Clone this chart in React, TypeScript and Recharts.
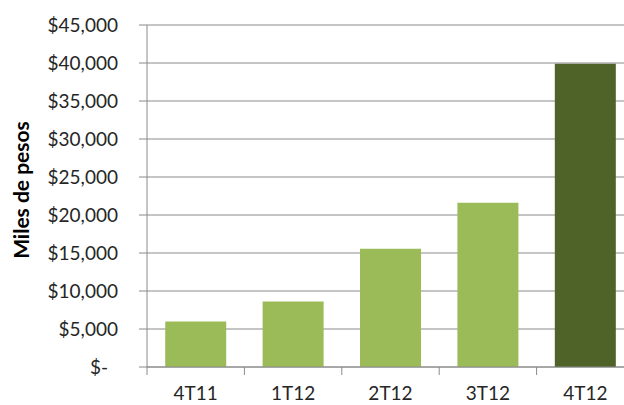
import React from "react";
import { BarChart, Bar, XAxis, YAxis, CartesianGrid, Cell } from "recharts";

const categories = ["4T11", "1T12", "2T12", "3T12", "4T12"];
const values = [6000, 8630, 15570, 21620, 39900];
const barColors = ["#9BBB59", "#9BBB59", "#9BBB59", "#9BBB59", "#4F6228"];
const yTicks = [0, 5000, 10000, 15000, 20000, 25000, 30000, 35000, 40000, 45000];
const yTitle = "Miles de pesos";

const data = categories.map((c, i) => ({ name: c, value: values[i] }));

const CHART_W = 634;
const CHART_H = 405;
const Y_W = 147;
const X_H = 38;
const TOP = 25;
const PLOT_W = CHART_W - Y_W;
const STEP = PLOT_W / categories.length;
const FONT = "Lato, 'Open Sans', sans-serif";
const GRID = "#8a8a8a";

const fmt = (v: number) =>
  v === 0 ? "$-" : "$" + v.toLocaleString("en-US");

const YTick = (props: any) => {
  const { x, y, payload } = props;
  const shift = payload.value === 0 ? -10 : 0;
  return (
    <text
      x={x + shift}
      y={y}
      dy="0.35em"
      textAnchor="end"
      fontFamily={FONT}
      fontSize={19}
      fill="#262626"
    >
      {fmt(payload.value)}
    </text>
  );
};

const XTick = (props: any) => {
  const { x, y, payload } = props;
  return (
    <g>
      <line x1={x - STEP / 2} x2={x - STEP / 2} y1={y} y2={y + 8} stroke={GRID} strokeWidth={1} />
      <text
        x={x}
        y={y + 26}
        dy="0.35em"
        textAnchor="middle"
        fontFamily={FONT}
        fontSize={19}
        fill="#262626"
      >
        {payload.value}
      </text>
    </g>
  );
};

const YTitle = (props: any) => {
  const { viewBox } = props;
  const cy = viewBox.y + viewBox.height / 2 - 6;
  return (
    <text
      x={20}
      y={cy}
      transform={`rotate(-90, 20, ${cy})`}
      textAnchor="middle"
      dominantBaseline="central"
      fontFamily={FONT}
      fontWeight="bold"
      fontSize={21}
      fill="#000"
    >
      {yTitle}
    </text>
  );
};

export default function App() {
  return (
    <div style={{ position: "absolute", left: 0, top: 0, width: 624, height: 405, overflow: "hidden", background: "#fff" }}>
      <BarChart
        width={CHART_W}
        height={CHART_H}
        data={data}
        margin={{ top: TOP, right: 0, bottom: 0, left: 0 }}
        barCategoryGap="18.7%"
      >
        <CartesianGrid vertical={false} stroke={GRID} strokeWidth={1} />
        <XAxis
          dataKey="name"
          height={X_H}
          axisLine={{ stroke: GRID }}
          tickLine={false}
          tickSize={0}
          tickMargin={0}
          tick={<XTick />}
          interval={0}
        />
        <YAxis
          width={Y_W}
          domain={[0, 45000]}
          ticks={yTicks}
          interval={0}
          axisLine={{ stroke: GRID }}
          tickLine={{ stroke: GRID }}
          tickSize={8}
          tickMargin={21}
          tick={<YTick />}
          label={<YTitle />}
        />
        <Bar dataKey="value" isAnimationActive={false}>
          {data.map((d, i) => (
            <Cell key={d.name} fill={barColors[i]} />
          ))}
        </Bar>
      </BarChart>
    </div>
  );
}
